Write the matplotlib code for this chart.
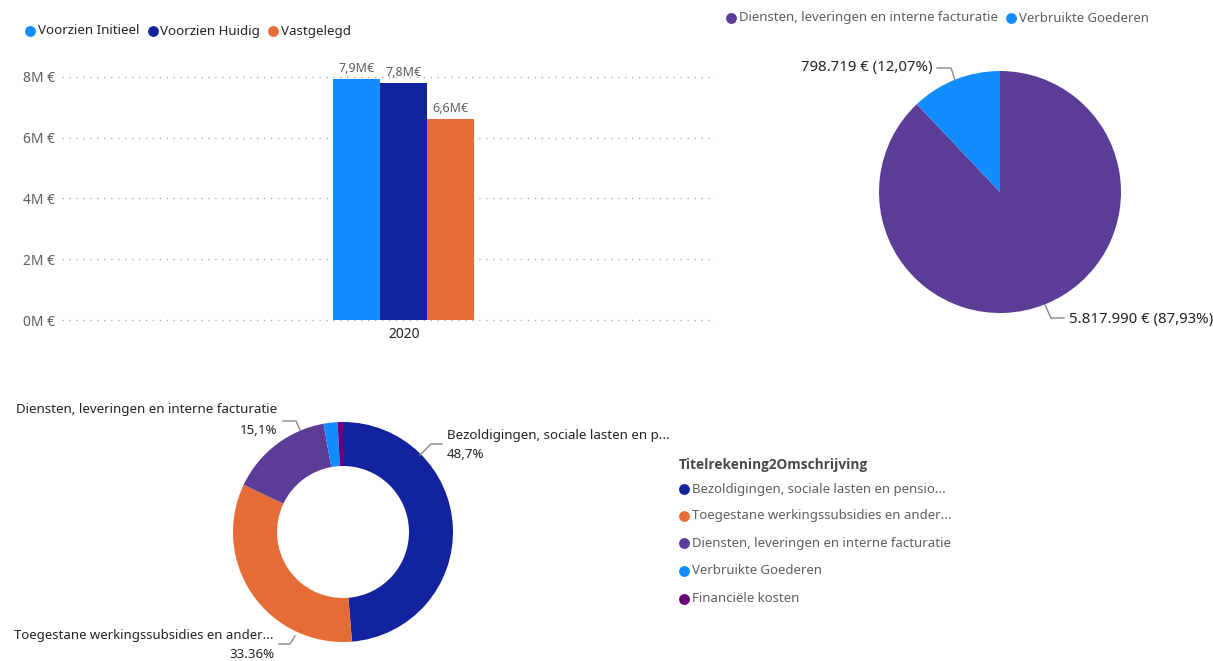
import matplotlib
matplotlib.use("Agg")
import matplotlib.pyplot as plt
import numpy as np

W, H = 1213, 661
plt.rcParams['font.family'] = ['Noto Sans', 'DejaVu Sans']

# --- bar chart: budget vs. committed ---
years = ['2020']
bar_series = ['Voorzien Initieel', 'Voorzien Huidig', 'Vastgelegd']
voorzien_initieel = [7930000]
voorzien_huidig = [7800000]
vastgelegd = [6616709]
bar_colors = ['#118DFF', '#12239E', '#E66C37']
y_ticks = [0, 2e6, 4e6, 6e6, 8e6]
y_tick_labels = ['0M €', '2M €', '4M €', '6M €', '8M €']

# --- pie: committed amounts per account ---
pie_labels = ['Diensten, leveringen en interne facturatie', 'Verbruikte Goederen']
pie_values = [5817990, 798719]
pie_colors = ['#5B3C96', '#118DFF']

# --- donut: share per account title ---
donut_title = 'Titelrekening2Omschrijving'
donut_legend = ['Bezoldigingen, sociale lasten en pensio...',
                'Toegestane werkingssubsidies en ander...',
                'Diensten, leveringen en interne facturatie',
                'Verbruikte Goederen',
                'Financiële kosten']
donut_short = ['Bezoldigingen, sociale lasten en p...',
               'Toegestane werkingssubsidies en ander...',
               'Diensten, leveringen en interne facturatie']
donut_share = [48.7, 33.36, 15.1, 2.07, 0.77]
donut_decimal_sep = [',', '.', ',']
donut_colors = ['#12239E', '#E66C37', '#5B3C96', '#118DFF', '#6B007B']

DARK = '#252423'
GREY = '#605E5C'
LEADER = '#8A8886'

fig = plt.figure(figsize=(W / 100, H / 100), dpi=100)
fig.patch.set_facecolor('white')


def px_axes(x0, y0, x1, y1):
    return fig.add_axes([x0 / W, 1 - y1 / H, (x1 - x0) / W, (y1 - y0) / H])


# ---------------- bar chart ----------------
axb = px_axes(62, 60, 715, 320)
series_vals = [voorzien_initieel, voorzien_huidig, vastgelegd]
x = np.arange(len(years))
offsets = [-1, 0, 1]
for vals, off, col in zip(series_vals, offsets, bar_colors):
    axb.bar(x + off, vals, width=1.0, color=col, zorder=2)
    for xi, v in zip(x, vals):
        lbl = f"{v / 1e6:.1f}M€".replace('.', ',')
        axb.annotate(lbl, (xi + off, v), xytext=(0, 3), textcoords='offset points',
                     ha='center', va='bottom', fontsize=9, color=GREY)
axb.set_xlim(-7.275, 6.62)
axb.set_ylim(0, 8.55e6)
axb.set_yticks(y_ticks)
axb.set_yticklabels(y_tick_labels)
axb.set_xticks(x)
axb.set_xticklabels(years)
axb.yaxis.grid(True, linestyle=(0, (1, 4)), color='#B3B0AD', linewidth=1)
axb.set_axisbelow(True)
for gl in axb.get_ygridlines():
    gl.set_clip_on(False)
for s in axb.spines.values():
    s.set_visible(False)
axb.tick_params(axis='y', length=0, pad=5, labelcolor=GREY, labelsize=10)
axb.tick_params(axis='x', length=0, pad=5, labelcolor=DARK, labelsize=10)

# ---------------- pie chart ----------------
axp = px_axes(879, 71, 1121, 313)
axp.pie(pie_values, colors=pie_colors, startangle=90, counterclock=False,
        wedgeprops=dict(linewidth=0))
axp.set_xlim(-1, 1)
axp.set_ylim(-1, 1)

# ---------------- donut chart ----------------
axd = px_axes(233, 422, 453, 642)
axd.pie(donut_share, colors=donut_colors, startangle=90, counterclock=False,
        wedgeprops=dict(width=0.4, linewidth=0))
axd.set_xlim(-1, 1)
axd.set_ylim(-1, 1)

# ---------------- overlay for labels, legends ----------------
ov = fig.add_axes([0, 0, 1, 1])
ov.set_xlim(0, W)
ov.set_ylim(H, 0)
ov.axis('off')
ov.patch.set_alpha(0)

fig.canvas.draw()
renderer = fig.canvas.get_renderer()


def text_width(t):
    return t.get_window_extent(renderer=renderer).width


def inline_legend(x0, y, labels, colors, color, size, gap=13):
    xc = x0
    for lab, col in zip(labels, colors):
        ov.plot([xc], [y], 'o', ms=7.8, color=col, mec='none')
        t = ov.text(xc + 8, y, lab, ha='left', va='center', fontsize=size, color=color)
        xc = xc + 8 + text_width(t) + gap


inline_legend(30, 31, bar_series, bar_colors, DARK, 9.6)
inline_legend(731, 18, pie_labels, pie_colors, GREY, 9.5)

# pie data labels with leader lines
total = sum(pie_values)


def eur(v):
    return f"{v:,}".replace(',', '.') + ' €'


def pct(v):
    return f"{v / total * 100:.2f}".replace('.', ',') + '%'


lbl_blue = f"{eur(pie_values[1])} ({pct(pie_values[1])})"
lbl_purple = f"{eur(pie_values[0])} ({pct(pie_values[0])})"
ov.plot([955, 951, 937], [80, 68, 68], color=LEADER, lw=1)
ov.text(933, 68, lbl_blue, ha='right', va='center', fontsize=10.8, color=DARK)
ov.plot([1045, 1051, 1064], [305, 318, 318], color=LEADER, lw=1)
ov.text(1069, 320, lbl_purple, ha='left', va='center', fontsize=10.8, color=DARK)

# donut data labels
pct_txt = [f"{s:g}".replace('.', sep) + '%' for s, sep in zip(donut_share, donut_decimal_sep)]
# Diensten
ov.plot([300, 296, 283], [430, 421, 421], color=LEADER, lw=1)
ov.text(277, 410, donut_short[2], ha='right', va='center', fontsize=9.6, color=DARK)
ov.text(277, 431, pct_txt[2], ha='right', va='center', fontsize=9.6, color=DARK)
# Bezoldigingen
ov.plot([420, 431, 442], [455, 444, 444], color=LEADER, lw=1)
ov.text(447, 436, donut_short[0], ha='left', va='center', fontsize=9.6, color=DARK)
ov.text(447, 455, pct_txt[0], ha='left', va='center', fontsize=9.6, color=DARK)
# Toegestane
ov.plot([295, 290, 279], [636, 644, 644], color=LEADER, lw=1)
ov.text(274, 636, donut_short[1], ha='right', va='center', fontsize=9.5, color=DARK)
ov.text(274, 655, pct_txt[1], ha='right', va='center', fontsize=9.5, color=DARK)

# donut legend
ov.text(679, 465, donut_title, ha='left', va='center', fontsize=9.8,
        fontweight='bold', family=['Open Sans', 'Lato', 'DejaVu Sans'], color='#4A4846')
legend_y = [489, 516, 543, 571, 599]
for lab, col, yy in zip(donut_legend, donut_colors, legend_y):
    ov.plot([684], [yy], 'o', ms=7.8, color=col, mec='none')
    ov.text(692, yy, lab, ha='left', va='center', fontsize=9.5, color=GREY)

fig.savefig('out.png', dpi=100, facecolor='white')
